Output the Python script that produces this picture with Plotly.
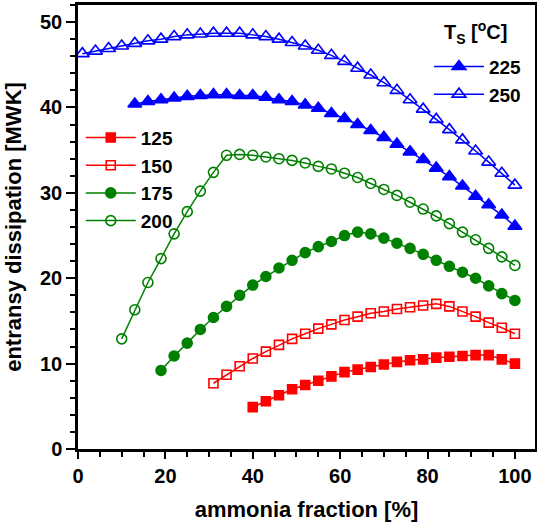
import plotly.graph_objects as go

# ---- data ----
x125 = list(range(40, 101, 3))
y125 = [4.9, 5.6, 6.3, 7.0, 7.5, 8.0, 8.5, 9.0, 9.3, 9.6, 9.9, 10.2, 10.4, 10.5, 10.7,
        10.8, 10.9, 11.0, 11.0, 10.5, 10.0]

x150 = list(range(31, 101, 3))
y150 = [7.7, 8.7, 9.7, 10.6, 11.4, 12.2, 12.9, 13.5, 14.1, 14.6, 15.1, 15.5, 15.9, 16.1,
        16.4, 16.6, 16.8, 17.0, 16.7, 16.1, 15.5, 14.8, 14.2, 13.5]

x175 = list(range(19, 101, 3))
y175 = [9.2, 10.9, 12.4, 14.0, 15.4, 16.7, 18.0, 19.2, 20.2, 21.2, 22.1, 23.0, 23.7, 24.3,
        25.0, 25.4, 25.2, 24.7, 24.1, 23.5, 22.8, 22.1, 21.4, 20.7, 20.0, 19.1, 18.2, 17.4]

x200 = list(range(10, 101, 3))
y200 = [12.9, 16.3, 19.5, 22.3, 25.2, 27.8, 30.2, 32.4, 34.4, 34.5, 34.4, 34.2, 34.0, 33.8,
        33.5, 33.1, 32.8, 32.3, 31.8, 31.1, 30.4, 29.7, 28.9, 28.1, 27.3, 26.4, 25.4, 24.5,
        23.5, 22.5, 21.5]

x225 = list(range(13, 101, 3))
y225 = [40.4, 40.7, 40.9, 41.1, 41.3, 41.4, 41.5, 41.5, 41.4, 41.4, 41.2, 40.9, 40.7, 40.3,
        39.9, 39.3, 38.7, 38.0, 37.3, 36.5, 35.7, 34.8, 33.9, 32.9, 31.9, 30.8, 29.6, 28.6,
        27.4, 26.1]

x250 = list(range(1, 101, 3))
y250 = [46.3, 46.6, 46.9, 47.2, 47.5, 47.8, 48.0, 48.3, 48.5, 48.6, 48.7, 48.7, 48.7, 48.5,
        48.3, 48.0, 47.6, 47.2, 46.7, 46.1, 45.4, 44.6, 43.8, 42.9, 42.0, 40.9, 39.8, 38.6,
        37.4, 36.2, 34.9, 33.6, 32.3, 30.9]

names = ["125", "150", "175", "200", "225", "250"]
x_ticks = [0, 20, 40, 60, 80, 100]
y_ticks = [0, 10, 20, 30, 40, 50]

FONT = "Liberation Sans, Arial, sans-serif"
RED, GREEN, BLUE = "#ff0000", "#008000", "#0000ff"

series = [
    (x125, y125, names[0], RED, "square", 9, "legend"),
    (x150, y150, names[1], RED, "square-open", 9, "legend"),
    (x175, y175, names[2], GREEN, "circle", 10, "legend"),
    (x200, y200, names[3], GREEN, "circle-open", 10, "legend"),
    (x225, y225, names[4], BLUE, "triangle-up", 12, "legend2"),
    (x250, y250, names[5], BLUE, "triangle-up-open", 12, "legend2"),
]

fig = go.Figure()
for xs, ys, nm, col, sym, msize, lg in series:
    fig.add_trace(go.Scatter(
        x=xs, y=ys, name=nm, mode="lines+markers",
        line=dict(color=col, width=1.5),
        marker=dict(symbol=sym, size=msize, color=col,
                    line=dict(color=col, width=1.6)),
        legend=lg,
    ))

axis_common = dict(
    showgrid=False, zeroline=False, showline=True, linecolor="black", linewidth=2.5,
    mirror=True, ticks="outside", tickcolor="black", tickwidth=2, automargin=False,
    tickfont=dict(family=FONT, size=20, color="black", weight="bold"),
)

fig.update_xaxes(
    **axis_common, range=[0, 104.6], tickmode="array", tickvals=x_ticks,
    ticklen=7,
    minor=dict(ticks="outside", dtick=5, tick0=0, ticklen=5, tickwidth=2, tickcolor="black"),
    title=dict(text="<b>ammonia fraction [%]</b>", font=dict(family=FONT, size=22, color="black"),
               standoff=16),
)
fig.update_yaxes(
    **axis_common, range=[0, 52], tickmode="array", tickvals=y_ticks,
    ticklen=9,
    minor=dict(ticks="outside", dtick=2, tick0=0, ticklen=5, tickwidth=2, tickcolor="black"),
    title=dict(text="<b>entransy dissipation [MWK]</b>", font=dict(family=FONT, size=22, color="black"),
               standoff=13),
)

legend_font = dict(family=FONT, size=19, color="black", weight="bold")
fig.update_layout(
    width=537, height=523,
    margin=dict(l=78, r=2, t=5, b=74, autoexpand=False),
    paper_bgcolor="white", plot_bgcolor="white",
    font=dict(family=FONT, color="black"),
    legend=dict(x=0.006, y=0.744, xanchor="left", yanchor="top", bgcolor="rgba(0,0,0,0)",
                font=legend_font, itemwidth=50, tracegroupgap=0, traceorder="normal"),
    legend2=dict(x=0.768, y=0.904, xanchor="left", yanchor="top", bgcolor="rgba(0,0,0,0)",
                 font=legend_font, itemwidth=50, traceorder="normal"),
    annotations=[dict(
        text="<b>T<sub>S</sub> [<sup>o</sup>C]</b>", xref="paper", yref="paper",
        x=0.869, y=0.937, xanchor="center", yanchor="middle", showarrow=False,
        font=dict(family=FONT, size=20, color="black"),
    )],
)

fig.write_html("out.html", config={"displayModeBar": False},
               post_script="document.body.style.margin='0';document.body.style.overflow='hidden';")
